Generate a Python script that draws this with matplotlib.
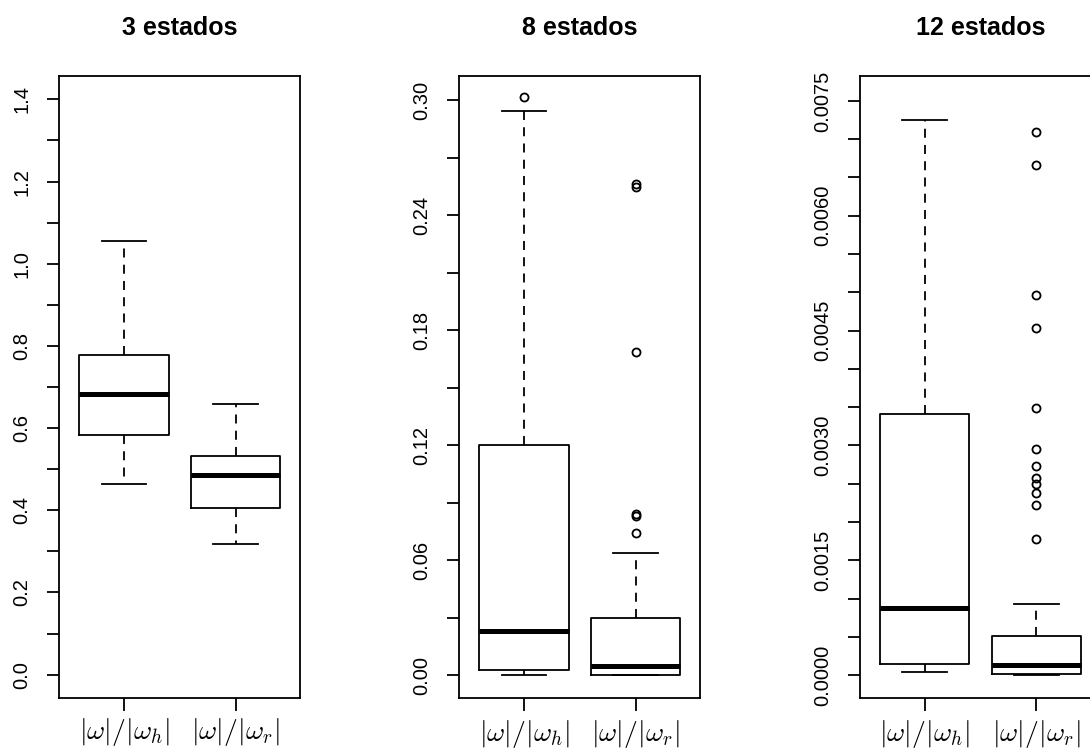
import numpy as np
import matplotlib
matplotlib.use('Agg')
import matplotlib.pyplot as plt

plt.rcParams['font.family'] = ['Liberation Sans', 'DejaVu Sans']
plt.rcParams['mathtext.fontset'] = 'cm'

# box summaries per model (two ratios each)
labels = [r'$|\omega|/|\omega_h|$', r'$|\omega|/|\omega_r|$']
titles = ['3 estados', '8 estados', '12 estados']

# 3 estados
q1_3 = [0.583, 0.406]
med_3 = [0.683, 0.485]
q3_3 = [0.777, 0.531]
lo_3 = [0.465, 0.318]
hi_3 = [1.056, 0.658]
out_3 = [[], []]

# 8 estados
q1_8 = [0.0025, 0.0003]
med_8 = [0.0232, 0.0050]
q3_8 = [0.1202, 0.0297]
lo_8 = [0.0, 0.0]
hi_8 = [0.2943, 0.0636]
out_8 = [[0.3017],
         [0.2561, 0.2546, 0.1686, 0.0843, 0.0830, 0.0743]]

# 12 estados
q1_12 = [0.000144, 0.0000187]
med_12 = [0.00088, 0.000131]
q3_12 = [0.003413, 0.000505]
lo_12 = [0.0000437, 0.000006]
hi_12 = [0.007257, 0.000923]
out_12 = [[],
          [0.00710, 0.006662, 0.004964, 0.004529, 0.003492, 0.002953,
           0.002735, 0.002570, 0.002496, 0.002382, 0.002217, 0.001773]]

# y axis: tick step, label every n-th tick, top tick, limits
yticks_3 = (0.1, 2, 1.4, '%.1f', (-0.056, 1.456))
yticks_8 = (0.03, 2, 0.30, '%.2f', (-0.0117, 0.3125))
yticks_12 = (0.0005, 3, 0.0075, '%.4f', (-0.000293, 0.00782))

panels = [
    (q1_3, med_3, q3_3, lo_3, hi_3, out_3, yticks_3),
    (q1_8, med_8, q3_8, lo_8, hi_8, out_8, yticks_8),
    (q1_12, med_12, q3_12, lo_12, hi_12, out_12, yticks_12),
]

fig = plt.figure(figsize=(10.9, 7.49), dpi=100)
lefts = [59.3, 459.3, 860.0]
W, H = 1090.0, 749.0
ax_w = 241.0
ax_top, ax_bot = 76.4, 697.6

for i, (q1, med, q3, lo, hi, out, yt) in enumerate(panels):
    ax = fig.add_axes([lefts[i] / W, 1 - ax_bot / H, ax_w / W, (ax_bot - ax_top) / H])
    stats = []
    for k in range(2):
        stats.append(dict(q1=q1[k], med=med[k], q3=q3[k],
                          whislo=lo[k], whishi=hi[k], fliers=out[k]))
    ax.bxp(stats, positions=[1, 2], widths=0.8,
           boxprops=dict(color='black', linewidth=1.3),
           medianprops=dict(color='black', linewidth=3.6, solid_capstyle='butt'),
           whiskerprops=dict(color='black', linewidth=1.3, linestyle=(0, (5, 4))),
           capprops=dict(color='black', linewidth=1.3),
           flierprops=dict(marker='o', markersize=5.8, markerfacecolor='none',
                           markeredgecolor='black', markeredgewidth=1.3))

    step, every, top, fmt, lims = yt
    n = int(round(top / step))
    ticks = np.arange(n + 1) * step
    ticklabels = [fmt % t if j % every == 0 else '' for j, t in enumerate(ticks)]
    ax.set_yticks(ticks)
    ax.set_yticklabels(ticklabels, rotation=90, va='center', fontsize=14.5)
    ax.set_ylim(*lims)
    ax.set_xlim(0.42, 2.58)
    ax.set_xticks([1, 2])
    ax.set_xticklabels(labels, fontsize=20)

    ax.tick_params(axis='both', length=9, width=1.3, color='black')
    ax.tick_params(axis='y', pad=11)
    ax.tick_params(axis='x', pad=4 if i == 0 else 6)
    for sp in ax.spines.values():
        sp.set_linewidth(1.3)

    ax.set_title(titles[i], fontsize=18, fontweight='bold', pad=30)

plt.savefig('out.png', dpi=100)
